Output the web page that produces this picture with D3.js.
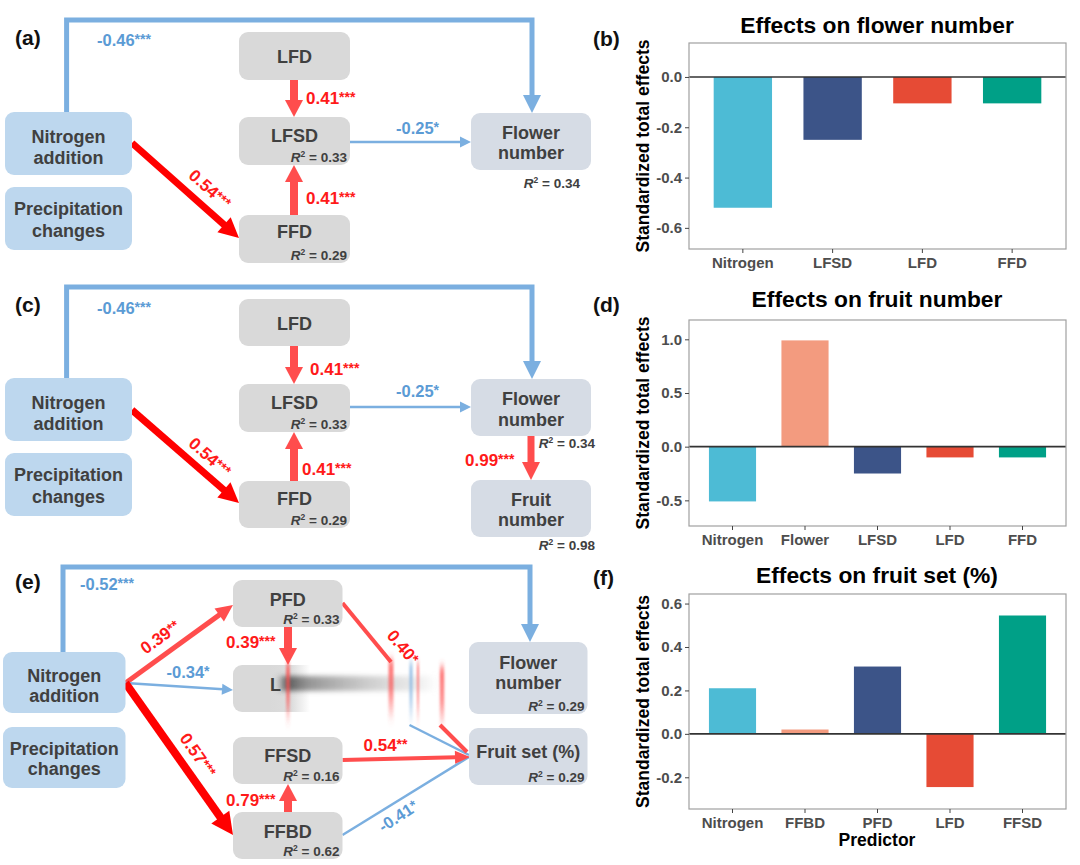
<!DOCTYPE html>
<html>
<head>
<meta charset="utf-8">
<script src="https://cdn.jsdelivr.net/npm/d3@7"></script>
<style>
  body { margin: 0; background: #fff; }
  svg { font-family: "Liberation Sans", Arial, sans-serif; font-weight: bold; }
</style>
</head>
<body>
<svg id="fig" width="1080" height="865"></svg>
<script>
// ---- bar chart data (standardized total effects) ----
var flowerPredictors = ["Nitrogen", "LFSD", "LFD", "FFD"];
var flowerEffects = [-0.52, -0.25, -0.105, -0.105];
var flowerTicks = [0, -0.2, -0.4, -0.6];
var flowerLimits = [-0.684, 0.135];

var fruitPredictors = ["Nitrogen", "Flower", "LFSD", "LFD", "FFD"];
var fruitEffects = [-0.51, 0.99, -0.25, -0.10, -0.10];
var fruitTicks = [1, 0.5, 0, -0.5];
var fruitLimits = [-0.739, 1.18];

var setPredictors = ["Nitrogen", "FFBD", "PFD", "LFD", "FFSD"];
var setEffects = [0.21, 0.02, 0.31, -0.245, 0.545];
var setTicks = [0.6, 0.4, 0.2, 0, -0.2];
var setLimits = [-0.346, 0.644];

var predictorColors = {
  Nitrogen: "#4DBBD5", Flower: "#F39B7F", FFBD: "#F39B7F",
  LFSD: "#3C5488", PFD: "#3C5488", LFD: "#E64B35", FFD: "#00A087", FFSD: "#00A087"
};

// ---- path diagram data: coefficients and R2 ----
var coefA = [["-0.46", "***"], ["0.41", "***"], ["0.41", "***"], ["0.54", "***"], ["-0.25", "*"]];
var r2A = {LFSD: "0.33", FFD: "0.29", FN: "0.34"};
var coefC = [["-0.46", "***"], ["0.41", "***"], ["0.41", "***"], ["0.54", "***"], ["-0.25", "*"], ["0.99", "***"]];
var r2C = {LFSD: "0.33", FFD: "0.29", FN: "0.34", FR: "0.98"};
var coefE = [["-0.52", "***"], ["0.39", "**"], ["-0.34", "*"], ["0.57", "***"], ["0.39", "***"],
             ["0.79", "***"], ["0.54", "**"], ["-0.41", "*"], ["0.40", "*"]];
var r2E = {PFD: "0.33", FFSD: "0.16", FFBD: "0.62", FN: "0.29", FS: "0.29"};

var BLUE = "#7BAFE0", BLUE_T = "#5B9BD5", RED = "#FF4D4D", RED_D = "#FF0000", RED_T = "#FF1A1A";
var INK = "#404040";

var svg = d3.select("#fig");
var defs = svg.append("defs");

function grad(id, x2, y2, stops, user) {
  var gr = defs.append("linearGradient").attr("id", id)
    .attr("x1", user ? user[0] : 0).attr("y1", user ? user[1] : 0)
    .attr("x2", user ? user[2] : x2).attr("y2", user ? user[3] : y2);
  if (user) gr.attr("gradientUnits", "userSpaceOnUse");
  stops.forEach(function(s) {
    gr.append("stop").attr("offset", s[0]).attr("stop-color", s[1]).attr("stop-opacity", s[2]);
  });
}
grad("fadeRed", 0, 1, [[0, RED, 0.75], [0.55, RED, 0.6], [1, RED, 0]]);
grad("fadeBlue", 0, 1, [[0, BLUE, 0.8], [0.55, BLUE, 0.65], [1, BLUE, 0]]);
grad("smear", 1, 0, [[0, "#444", 0.95], [0.15, "#777", 0.8], [0.5, "#999", 0.55], [0.85, "#bbb", 0.3], [1, "#ddd", 0]]);
grad("boxFade", 0, 0, [[0, "#D9D9D9", 1], [0.55, "#D9D9D9", 0.9], [1, "#D9D9D9", 0]], [270, 0, 310, 0]);
defs.append("filter").attr("id", "vblur").attr("x", "-100%").attr("y", "-30%").attr("width", "300%").attr("height", "160%")
  .append("feGaussianBlur").attr("stdDeviation", "0.8 4");
defs.append("filter").attr("id", "hblur").attr("x", "-20%").attr("y", "-100%").attr("width", "140%").attr("height", "300%")
  .append("feGaussianBlur").attr("stdDeviation", "4 2.5");

// ---- helpers for the path diagrams ----
function drawBox(g, b, fill, lines, r2, r2pos) {
  g.append("rect").attr("x", b[0]).attr("y", b[1]).attr("width", b[2] - b[0]).attr("height", b[3] - b[1])
    .attr("rx", 9).attr("fill", fill);
  lines.forEach(function(l) {
    g.append("text").attr("x", (b[0] + b[2]) / 2).attr("y", l[1] + 6.5).attr("text-anchor", "middle")
      .attr("font-size", 18).attr("fill", INK).text(l[0]);
  });
  if (r2) drawR2(g, r2, r2pos ? r2pos[0] : b[2] - 3, r2pos ? r2pos[1] : b[3] - 8);
}

function drawR2(g, v, x, y) {
  var t = g.append("text").attr("x", x).attr("y", y + 5).attr("text-anchor", "end")
    .attr("font-size", 13.5).attr("fill", INK);
  t.append("tspan").attr("font-style", "italic").text("R");
  t.append("tspan").attr("font-size", 8.5).attr("dy", -5).text("2");
  t.append("tspan").attr("dy", 5).text(" = " + v);
}

var line = d3.line();
function arrow(g, pts, w, color, head) {
  var p = pts.map(function(d) { return d.slice(); });
  if (head) {
    var a = p[p.length - 2], b = p[p.length - 1];
    var dx = b[0] - a[0], dy = b[1] - a[1], L = Math.sqrt(dx * dx + dy * dy);
    var ux = dx / L, uy = dy / L;
    var bx = b[0] - ux * head[0], by = b[1] - uy * head[0];
    p[p.length - 1] = [bx + ux * 1, by + uy * 1];
    g.append("path").attr("d", line(p)).attr("fill", "none").attr("stroke", color)
      .attr("stroke-width", w).attr("stroke-linejoin", "miter");
    var hw = head[1] / 2;
    g.append("path").attr("d", line([b, [bx - uy * hw, by + ux * hw], [bx + uy * hw, by - ux * hw]]) + "Z")
      .attr("fill", color);
  } else {
    g.append("path").attr("d", line(p)).attr("fill", "none").attr("stroke", color).attr("stroke-width", w);
  }
}

function coefLabel(g, c, x, y, color, opts) {
  opts = opts || {};
  var t = g.append("text").attr("font-size", opts.size || 17).attr("fill", color)
    .attr("text-anchor", opts.rot !== undefined ? "middle" : "start");
  if (opts.rot !== undefined) t.attr("transform", "translate(" + x + "," + y + ") rotate(" + opts.rot + ")").attr("y", 6);
  else t.attr("x", x).attr("y", y + 6);
  t.append("tspan").text(c[0]);
  t.append("tspan").attr("font-size", 14).attr("dy", -2).text(c[1]);
}

function tag(x, y, s) {
  svg.append("text").attr("x", x).attr("y", y + 7).attr("font-size", 21).attr("fill", "#111").text(s);
}

var BLUEBOX = "#BDD7EE", GREYBOX = "#D9D9D9", OUTBOX = "#D6DCE5";

// ---- panel (a) ----
(function() {
  var g = svg.append("g");
  tag(15, 38, "(a)");
  arrow(g, [[66.6, 112], [66.6, 20], [532, 20], [532, 113]], 5, BLUE, [18, 18]);
  arrow(g, [[294, 80], [294, 117]], 8, RED, [17, 18]);
  arrow(g, [[294, 215], [294, 165]], 8, RED, [17, 18]);
  arrow(g, [[132, 143], [239, 238]], 7, RED_D, [20, 20]);
  arrow(g, [[350, 142], [471, 142]], 2.5, BLUE, [11, 11]);
  drawBox(g, [5, 112, 132, 175], BLUEBOX, [["Nitrogen", 136], ["addition", 157]]);
  drawBox(g, [5, 187, 132, 250], BLUEBOX, [["Precipitation", 208], ["changes", 230]]);
  drawBox(g, [239, 32, 350, 80], GREYBOX, [["LFD", 56]]);
  drawBox(g, [239, 117, 350, 165], GREYBOX, [["LFSD", 135]], r2A.LFSD);
  drawBox(g, [239, 215, 350, 263], GREYBOX, [["FFD", 231]], r2A.FFD);
  drawBox(g, [471, 113, 591, 170], OUTBOX, [["Flower", 132], ["number", 152]], r2A.FN, [580, 183]);
  coefLabel(g, coefA[0], 97, 40, BLUE_T, {size: 16.5});
  coefLabel(g, coefA[1], 306, 98, RED_T);
  coefLabel(g, coefA[2], 306, 198, RED_T);
  coefLabel(g, coefA[3], 210, 189, RED_T, {rot: 42});
  coefLabel(g, coefA[4], 396, 128, BLUE_T, {size: 16.5});
})();

// ---- panel (c) ----
(function() {
  var g = svg.append("g");
  tag(15, 305, "(c)");
  arrow(g, [[66.6, 378], [66.6, 287], [532, 287], [532, 379]], 5, BLUE, [18, 18]);
  arrow(g, [[294, 346], [294, 384]], 8, RED, [17, 18]);
  arrow(g, [[294, 481], [294, 432]], 8, RED, [17, 18]);
  arrow(g, [[132, 410], [239, 503]], 7, RED_D, [20, 20]);
  arrow(g, [[350, 407], [471, 407]], 2.5, BLUE, [11, 11]);
  arrow(g, [[531, 436], [531, 480]], 7, RED, [18, 18]);
  drawBox(g, [5, 378, 132, 441], BLUEBOX, [["Nitrogen", 402], ["addition", 423]]);
  drawBox(g, [5, 453, 132, 516], BLUEBOX, [["Precipitation", 474], ["changes", 496]]);
  drawBox(g, [239, 299, 350, 346], GREYBOX, [["LFD", 323]]);
  drawBox(g, [239, 384, 350, 432], GREYBOX, [["LFSD", 402]], r2C.LFSD);
  drawBox(g, [239, 481, 350, 528], GREYBOX, [["FFD", 498]], r2C.FFD);
  drawBox(g, [471, 379, 591, 436], OUTBOX, [["Flower", 398], ["number", 419]], r2C.FN, [595, 443]);
  drawBox(g, [471, 480, 591, 537], OUTBOX, [["Fruit", 499], ["number", 519]], r2C.FR, [595, 545]);
  coefLabel(g, coefC[0], 97, 308, BLUE_T, {size: 16.5});
  coefLabel(g, coefC[1], 310, 369, RED_T);
  coefLabel(g, coefC[2], 302, 469, RED_T);
  coefLabel(g, coefC[3], 210, 457, RED_T, {rot: 42});
  coefLabel(g, coefC[4], 396, 391, BLUE_T, {size: 16.5});
  coefLabel(g, coefC[5], 465, 460, RED_T);
})();

// ---- panel (e) ----
(function() {
  var g = svg.append("g");
  tag(15, 582, "(e)");
  arrow(g, [[63, 652], [63, 567], [530, 567], [530, 642]], 5, BLUE, [18, 18]);
  arrow(g, [[125.5, 683], [233, 605]], 5, RED, [17, 16]);
  arrow(g, [[125.5, 683], [233, 690]], 2.5, BLUE, [11, 11]);
  arrow(g, [[125.5, 683], [233, 835]], 8, RED_D, [22, 22]);
  arrow(g, [[288, 627], [288, 665]], 8, RED, [17, 18]);
  arrow(g, [[288, 812], [288, 784]], 8, RED, [17, 18]);
  arrow(g, [[342.5, 603], [391, 662]], 4, RED);
  arrow(g, [[342.5, 835], [469, 757]], 2.5, BLUE);
  arrow(g, [[409.5, 725], [469, 755]], 2.5, BLUE);
  arrow(g, [[440, 725], [467, 752]], 4, RED);
  arrow(g, [[342.5, 760], [470, 757]], 4, RED, [15, 13]);

  drawBox(g, [3, 652, 125.5, 713], BLUEBOX, [["Nitrogen", 675], ["addition", 695]]);
  drawBox(g, [3, 727, 125.5, 788], BLUEBOX, [["Precipitation", 748], ["changes", 768]]);
  drawBox(g, [233, 580, 342.5, 627], GREYBOX, [["PFD", 599]], r2E.PFD);
  drawBox(g, [233, 737, 342.5, 784], GREYBOX, [["FFSD", 755]], r2E.FFSD);
  drawBox(g, [233, 812, 342.5, 859], GREYBOX, [["FFBD", 831]], r2E.FFBD);
  drawBox(g, [469, 642, 587.5, 714], OUTBOX, [["Flower", 662], ["number", 682]], r2E.FN);
  drawBox(g, [469, 728, 587.5, 785], OUTBOX, [["Fruit set (%)", 751]], r2E.FS);

  // LFD box, smeared in the original figure
  g.append("rect").attr("x", 233).attr("y", 665).attr("width", 110).attr("height", 47).attr("rx", 9)
    .attr("fill", "url(#boxFade)");
  g.append("text").attr("x", 270).attr("y", 691).attr("font-size", 18).attr("fill", INK).text("L");
  g.append("rect").attr("x", 282).attr("y", 676).attr("width", 158).attr("height", 15)
    .attr("fill", "url(#smear)").attr("filter", "url(#hblur)");
  [[288, 663, 4, "fadeRed"], [391, 660, 5, "fadeRed"], [411, 663, 3, "fadeBlue"],
   [418, 663, 2, "fadeRed"], [442, 667, 4.5, "fadeRed"]].forEach(function(s) {
    g.append("rect").attr("x", s[0] - s[2] / 2).attr("y", s[1]).attr("width", s[2]).attr("height", 62)
      .attr("fill", "url(#" + s[3] + ")").attr("filter", "url(#vblur)");
  });

  coefLabel(g, coefE[0], 80, 584, BLUE_T, {size: 16.5});
  coefLabel(g, coefE[1], 160, 637, RED_T, {rot: -36});
  coefLabel(g, coefE[2], 166.5, 672, BLUE_T, {size: 16.5});
  coefLabel(g, coefE[3], 198, 755, RED_T, {rot: 55});
  coefLabel(g, coefE[4], 226, 642, RED_T);
  coefLabel(g, coefE[5], 226, 800, RED_T);
  coefLabel(g, coefE[6], 363.5, 745, RED_T);
  coefLabel(g, coefE[7], 398, 816, BLUE_T, {size: 16.5, rot: -33});
  coefLabel(g, coefE[8], 403, 647, RED_T, {rot: 50});
})();

// ---- bar charts ----
function barPanel(cats, vals, ticks, limits, top, bottom, title, titleY, tagText, tagY, xTitle) {
  var left = 689, right = 1066;
  var g = svg.append("g");
  var x = d3.scaleBand().domain(cats).range([left, right]).paddingInner(0.35).paddingOuter(0.275);
  var y = d3.scaleLinear().domain(limits).range([bottom, top]);

  g.selectAll("rect.bar").data(cats).enter().append("rect").attr("class", "bar")
    .attr("x", function(d) { return x(d); })
    .attr("width", x.bandwidth())
    .attr("y", function(d, i) { return y(Math.max(0, vals[i])); })
    .attr("height", function(d, i) { return Math.abs(y(vals[i]) - y(0)); })
    .attr("fill", function(d) { return predictorColors[d]; });

  g.append("line").attr("x1", left).attr("x2", right).attr("y1", y(0)).attr("y2", y(0))
    .attr("stroke", "#333").attr("stroke-width", 1.6);
  g.append("rect").attr("x", left).attr("y", top).attr("width", right - left).attr("height", bottom - top)
    .attr("fill", "none").attr("stroke", "#a0a0a0").attr("stroke-width", 1.2);

  var ya = g.append("g").attr("transform", "translate(" + left + ",0)")
    .call(d3.axisLeft(y).tickValues(ticks).tickSize(4).tickFormat(function(d) { return d.toFixed(1); }));
  var xa = g.append("g").attr("transform", "translate(0," + bottom + ")")
    .call(d3.axisBottom(x).tickSize(4));
  [ya, xa].forEach(function(a) {
    a.select(".domain").remove();
    a.selectAll(".tick line").attr("stroke", "#444");
    a.selectAll("text").attr("font-size", 15).attr("font-family", "Liberation Sans, Arial, sans-serif")
      .attr("font-weight", "bold").attr("fill", "#4D4D4D");
  });
  xa.selectAll("text").attr("y", 8);

  svg.append("text").attr("x", 877).attr("y", titleY + 8).attr("text-anchor", "middle")
    .attr("font-size", 22.8).attr("fill", "#000").text(title);
  svg.append("text").attr("transform", "translate(649," + ((top + bottom) / 2) + ") rotate(-90)")
    .attr("text-anchor", "middle").attr("font-size", 17.5).attr("fill", "#000").text("Standardized total effects");
  tag(593, tagY, tagText);
  if (xTitle) {
    svg.append("text").attr("x", 877).attr("y", 846).attr("text-anchor", "middle")
      .attr("font-size", 17.5).attr("fill", "#000").text(xTitle);
  }
}

barPanel(flowerPredictors, flowerEffects, flowerTicks, flowerLimits, 43, 249,
  "Effects on flower number", 25, "(b)", 39);
barPanel(fruitPredictors, fruitEffects, fruitTicks, fruitLimits, 320, 526,
  "Effects on fruit number", 299, "(d)", 305);
barPanel(setPredictors, setEffects, setTicks, setLimits, 594, 809,
  "Effects on fruit set (%)", 575, "(f)", 578, "Predictor");
</script>
</body>
</html>
